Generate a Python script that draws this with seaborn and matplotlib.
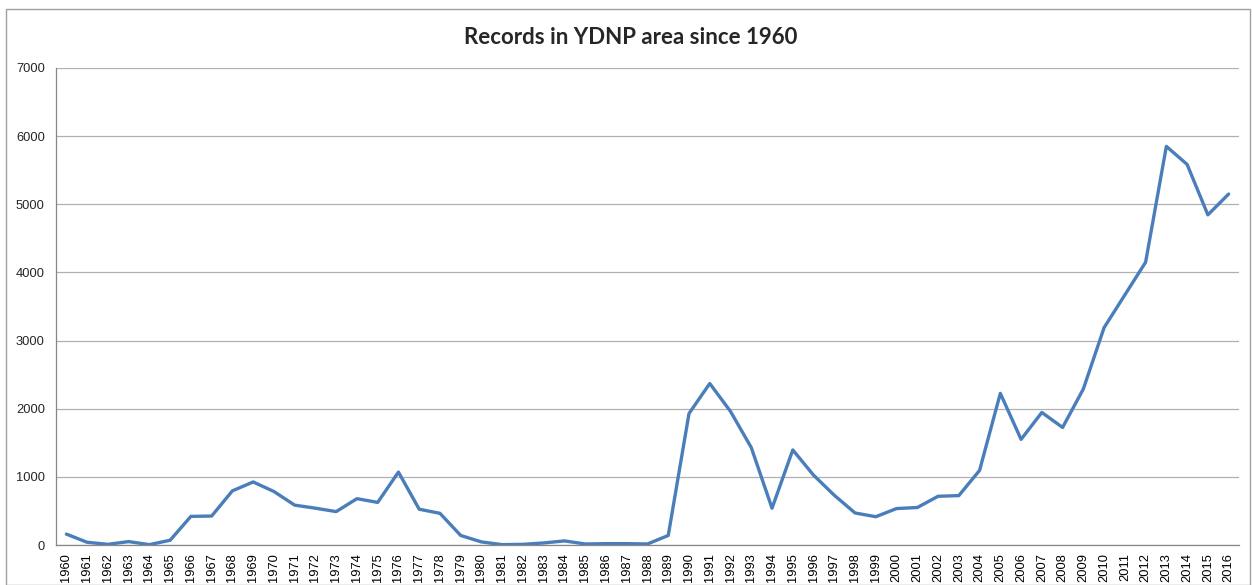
import matplotlib
matplotlib.use('Agg')
import matplotlib.pyplot as plt
from matplotlib.patches import Rectangle
import seaborn as sns
import pandas as pd

# Records per year
years = list(range(1960, 2017))
records = [160, 40, 10, 50, 5, 70, 420, 425, 795, 925, 785, 585, 540, 490, 680, 625,
           1070, 525, 465, 140, 45, 5, 10, 30, 60, 15, 20, 20, 15, 140, 1930, 2370,
           1960, 1430, 540, 1395, 1025, 730, 470, 415, 535, 550, 715, 725, 1095, 2225,
           1550, 1945, 1725, 2290, 3190, 3670, 4150, 5850, 5585, 4845, 5150]
title = 'Records in YDNP area since 1960'

df = pd.DataFrame({'Year': years, 'Records': records})

sns.set_style('white')
plt.rcParams['font.family'] = ['Liberation Sans', 'DejaVu Sans']

fig = plt.figure(figsize=(12.52, 5.85), dpi=100)
ax = fig.add_axes([56 / 1252, 1 - 545 / 585, (1239 - 56) / 1252, (545 - 68) / 585])

sns.lineplot(data=df, x='Year', y='Records', ax=ax, color='#4A7EBB', linewidth=2.4)

ax.set_xlim(years[0] - 0.5, years[-1] + 0.5)
ax.set_ylim(0, 7000)
ax.set_yticks(range(0, 7001, 1000))
ax.set_xticks(years)
ax.set_xticklabels([str(y) for y in years], rotation=90)
ax.set_xticks([y - 0.5 for y in years] + [years[-1] + 0.5], minor=True)
ax.tick_params(axis='x', which='major', length=0, pad=6, labelsize=9.3, colors='#000000')
ax.tick_params(axis='x', which='minor', length=5, width=0.8, color='#868686', direction='out')
ax.tick_params(axis='y', length=4, width=0.8, color='#868686', labelsize=9.3, pad=4)
ax.set_xlabel('')
ax.set_ylabel('')

ax.grid(axis='y', color='#B0B0B0', linewidth=0.9)
ax.set_axisbelow(True)
for s in ['top', 'right']:
    ax.spines[s].set_visible(False)
for s in ['left', 'bottom']:
    ax.spines[s].set_color('#868686')
    ax.spines[s].set_linewidth(0.9)

fig.text(631 / 1252, 1 - 38 / 585, title, ha='center', va='center',
         fontsize=16, fontweight='bold', family=['Lato', 'DejaVu Sans'])

# chart border
fig.patches.append(Rectangle((6 / 1252, 0), (1250 - 6) / 1252, 1 - 9 / 585,
                             transform=fig.transFigure, fill=False,
                             edgecolor='#A0A0A0', linewidth=1))

fig.savefig('out.png', dpi=100)
